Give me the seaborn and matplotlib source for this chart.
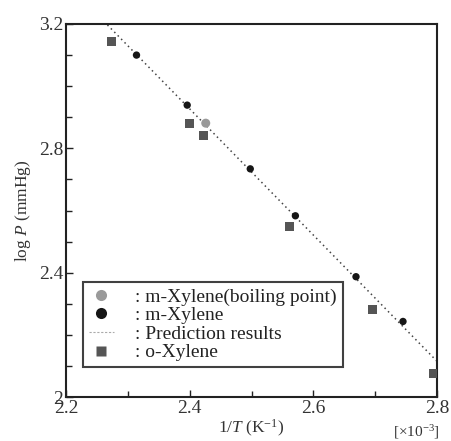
import matplotlib
matplotlib.use("Agg")
import matplotlib.pyplot as plt
import seaborn as sns
import pandas as pd
from matplotlib.lines import Line2D
from matplotlib.ticker import MultipleLocator

# data
o_x = [2.273, 2.400, 2.422, 2.562, 2.695, 2.794]
o_y = [3.145, 2.881, 2.840, 2.550, 2.283, 2.075]
m_x = [2.314, 2.396, 2.498, 2.571, 2.669, 2.745]
m_y = [3.100, 2.939, 2.734, 2.583, 2.387, 2.243]
bp_x = [2.426]
bp_y = [2.881]
pred_x = [2.267, 2.800]
pred_y = [3.197, 2.115]

sns.set_theme(style="white")
plt.rcParams['font.family'] = ['Liberation Serif', 'DejaVu Serif']
plt.rcParams['mathtext.fontset'] = 'custom'
plt.rcParams['mathtext.it'] = 'Liberation Serif:italic'
plt.rcParams['mathtext.rm'] = 'Liberation Serif'

fig = plt.figure(figsize=(4.51, 4.41), dpi=100)
ax = fig.add_axes([66/451, 1-397/441, (437-66)/451, (397-24)/441])

c_black = '#161616'
c_sq = '#555555'
c_bp = '#9a9a9a'

sns.lineplot(x=pred_x, y=pred_y, ax=ax, color='#444444', lw=1.1,
             linestyle=(0, (1, 2.2)), zorder=1)
sns.scatterplot(x=o_x, y=o_y, ax=ax, marker='s', s=42, color=c_sq,
                edgecolor='none', zorder=3)
sns.scatterplot(x=m_x, y=m_y, ax=ax, marker='o', s=28, color=c_black,
                edgecolor='none', zorder=3)
sns.scatterplot(x=bp_x, y=bp_y, ax=ax, marker='o', s=42, color=c_bp,
                edgecolor='none', zorder=3)

ax.set_xlim(2.2, 2.8)
ax.set_ylim(2.0, 3.2)
ax.xaxis.set_major_locator(MultipleLocator(0.2))
ax.xaxis.set_minor_locator(MultipleLocator(0.1))
ax.yaxis.set_major_locator(MultipleLocator(0.4))
ax.yaxis.set_minor_locator(MultipleLocator(0.1))
ax.tick_params(which='both', direction='in', color='#222222', width=1.0,
               labelsize=14, labelcolor='#333333', pad=2)
ax.tick_params(which='major', length=5)
ax.tick_params(which='minor', length=4)
ax.tick_params(axis='x', which='both', bottom=True, top=False)
ax.tick_params(axis='y', which='both', left=True, right=False)
for sp in ax.spines.values():
    sp.set_color('#222222')
    sp.set_linewidth(1.5)

ax.xaxis.set_major_formatter(plt.FuncFormatter(lambda v, p: f"{v:.1f}"))
ax.yaxis.set_major_formatter(plt.FuncFormatter(lambda v, p: "2" if abs(v-2.0) < 1e-9 else f"{v:.1f}"))

ax.set_ylabel(r"log $P$ (mmHg)", fontsize=12.5, color='#333333', labelpad=4)
ax.set_xlabel(r"1/$T$ (K$^{-1}$)", fontsize=12.5, color='#333333', labelpad=1)
fig.text(416/451, 1-432/441, r"[×10$^{-3}$]", fontsize=11, color='#333333',
         ha='center', va='center')

handles = [
    Line2D([], [], marker='o', ls='none', color=c_bp, markersize=8, markeredgecolor='none'),
    Line2D([], [], marker='o', ls='none', color=c_black, markersize=8, markeredgecolor='none'),
    Line2D([], [], ls=(0, (2, 1.5)), color='#aaaaaa', lw=0.8),
    Line2D([], [], marker='s', ls='none', color=c_sq, markersize=7, markeredgecolor='none'),
]
labels = [": m-Xylene(boiling point)", ": m-Xylene", ": Prediction results", ": o-Xylene"]
leg = ax.legend(handles, labels, loc='lower left', bbox_to_anchor=(0.045, 0.08),
                frameon=True, fancybox=False, shadow=False, fontsize=14,
                handlelength=1.3, handletextpad=1.1, labelspacing=0.05,
                borderpad=0.3, borderaxespad=0)
leg.get_frame().set_edgecolor('#111111')
leg.get_frame().set_linewidth(1.5)
for t in leg.get_texts():
    t.set_color('#222222')

fig.savefig("out.png", dpi=100)
